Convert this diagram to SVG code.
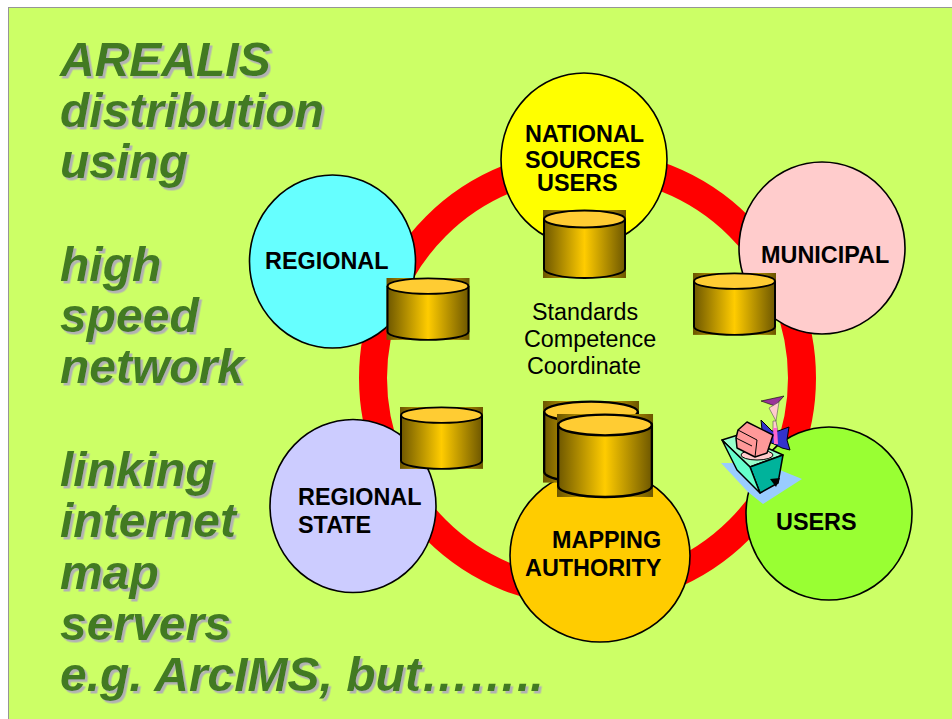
<svg xmlns="http://www.w3.org/2000/svg" width="952" height="719" viewBox="0 0 952 719">
<style>
.t{font-family:"Liberation Sans",Arial,sans-serif;font-size:48px;font-weight:bold;font-style:italic;fill:#437a23}
.c{stroke:#000;stroke-width:1.600}
.l{font-family:"Liberation Sans",Arial,sans-serif;font-size:23.400px;font-weight:bold;fill:#000}
.m{font-family:"Liberation Sans",Arial,sans-serif;font-size:23.300px;fill:#000}
.e{stroke:#000;stroke-width:2;fill:none}
.top{fill:#ffcc33;stroke:#000;stroke-width:2}
</style>
<defs>
<filter id="sh" x="-5%" y="-5%" width="110%" height="110%">
<feDropShadow dx="2.500" dy="2.500" stdDeviation="0" flood-color="#b2b2b2"/>
</filter>
<linearGradient id="g" x1="0" x2="1" y1="0" y2="0">
<stop offset="0" stop-color="#6b5500"/><stop offset=".5" stop-color="#ffcc00"/><stop offset="1" stop-color="#6b5500"/>
</linearGradient>
<g id="cyl">
<rect x="0" y="0" width="83" height="68" fill="url(#g)"/>
<path class="e" d="M1 9V59C1 64 20 68 41.500 68S82 64 82 59V9"/>
<ellipse class="top" cx="41.500" cy="9" rx="40.500" ry="8.500"/>
</g>
</defs>
<rect width="952" height="719" fill="#fff"/>
<rect x="8.500" y="7.500" width="950" height="720" fill="#ccff66" stroke="#969696"/>
<g id="title" class="t" filter="url(#sh)">
<text x="60" y="76">AREALIS</text><text x="60" y="127">distribution</text><text x="60" y="178">using</text>
<text x="60" y="281">high</text><text x="60" y="332">speed</text><text x="60" y="383">network</text>
<text x="60" y="486">linking</text><text x="60" y="537">internet</text><text x="60" y="589">map</text><text x="60" y="640">servers</text><text x="60" y="691">e.g. ArcIMS, but……..</text>
</g>
<g id="connectors">
<circle cx="587.500" cy="378" r="214.500" fill="none" stroke="#ff0000" stroke-width="28"/>
</g>
<g id="national"><ellipse class="c" cx="584" cy="159.500" rx="83" ry="86.500" fill="#ffff00"/>
<text class="l" x="525" y="142">NATIONAL</text><text class="l" x="525" y="168">SOURCES</text><text class="l" x="537" y="191">USERS</text></g>
<g id="regional"><ellipse class="c" cx="332.500" cy="261.500" rx="83" ry="86.500" fill="#66ffff"/>
<text class="l" x="265" y="269">REGIONAL</text></g>
<g id="municipal"><ellipse class="c" cx="822" cy="248" rx="83" ry="86" fill="#ffcccc"/>
<text class="l" x="761" y="262.500">MUNICIPAL</text></g>
<g id="users"><ellipse class="c" cx="829" cy="513.500" rx="83" ry="86.500" fill="#99ff33"/>
<text class="l" x="776" y="530">USERS</text></g>
<g id="regional-state"><ellipse class="c" cx="353" cy="506" rx="83" ry="86.500" fill="#ccccff"/>
<text class="l" x="298" y="505">REGIONAL</text><text class="l" x="298" y="533">STATE</text></g>
<g id="mapping"><ellipse class="c" cx="600" cy="555.500" rx="90" ry="86.500" fill="#ffcc00"/>
<text class="l" x="552" y="548">MAPPING</text><text class="l" x="525" y="576">AUTHORITY</text></g>
<g id="center"><text class="m" x="532" y="320">Standards</text><text class="m" x="524" y="347">Competence</text><text class="m" x="527" y="374">Coordinate</text></g>
<g id="db-national"><use href="#cyl" x="543" y="210"/></g>
<g id="db-regional"><use href="#cyl" transform="translate(386.500 278) scale(1 .91)"/></g>
<g id="db-municipal"><use href="#cyl" transform="translate(693 273) scale(1 .91)"/></g>
<g id="db-state"><use href="#cyl" transform="translate(400 407) scale(1 .91)"/></g>
<g id="db-map-back"><use href="#cyl" transform="translate(543 401) scale(1.157 1.2)"/></g>
<g id="db-map-front"><use href="#cyl" transform="translate(557 414) scale(1.157 1.22)"/></g>
<g id="user-figure" stroke-linejoin="round">
<path d="M721 463L745 463L780 470L802 479L763 504L748 492Z" fill="#99ccff"/>
<path d="M761 401L784 396L775 406Z" fill="#993399" stroke="#000" stroke-width=".6"/>
<path d="M769 408L779 402L776 421L773 421L773 432L778 432L776 421Z" fill="#ffcccc" stroke="#555" stroke-width=".6"/>
<path d="M761 420L772 431L778 431L789 427L787 440L790 450L782 448L774 444L763 440Z" fill="#3333cc" stroke="#000"/>
<path d="M773 428L777 428L778 444L774 444Z" fill="#ff66cc"/>
<path d="M722 440L738 435L783 455L750 467Z" fill="#99ffcc" stroke="#000" stroke-width="1.500"/>
<path d="M750 467L783 455L778 483L760 493Z" fill="#00b39b" stroke="#000" stroke-width="1.500"/>
<path d="M722 440L750 467L760 493L737 470Z" fill="#66ffcc" stroke="#000" stroke-width="1.500"/>
<path d="M770 479L780 478L776 487Z" fill="#000"/>
<ellipse cx="757" cy="455" rx="16" ry="5" fill="#ffcccc" stroke="#000"/>
<path d="M738 430L747 422L773 435L767 453L755 457L737 448L736 438Z" fill="#ff9999" stroke="#000" stroke-width="1.500"/>
<path d="M738 430L757 440L755 457M736 438L752 446" fill="none" stroke="#000"/>
</g>
</svg>
